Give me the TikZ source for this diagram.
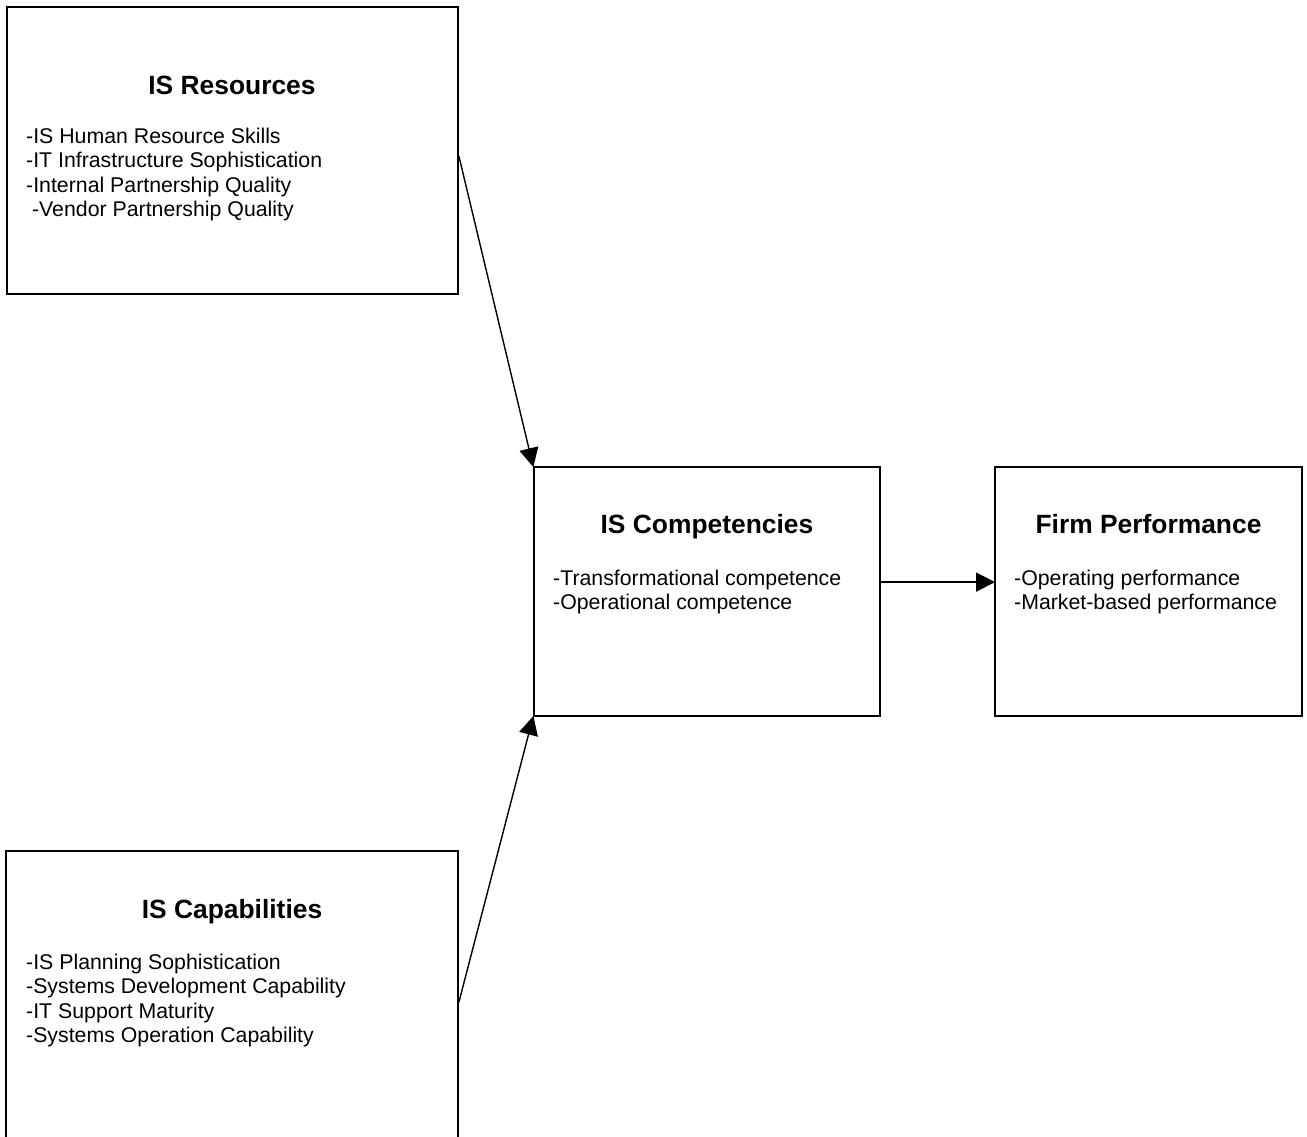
\documentclass[tikz,border=0pt]{standalone}
\usepackage{fontspec}
\setmainfont{Liberation Sans}
\usetikzlibrary{arrows.meta}
\tikzset{
  box/.style={draw, line width=1.8pt, rectangle, inner sep=0pt},
  title/.style={font=\bfseries\fontsize{26.4}{30}\selectfont, inner sep=0pt, anchor=base},
  body/.style={font=\fontsize{21.3}{24.5}\selectfont, align=left, inner sep=0pt, anchor=north west},
  link/.style={line width=1.4pt, -{Triangle[length=19pt,width=19pt]}, shorten >=-1pt}
}
\begin{document}
\begin{tikzpicture}[x=1pt,y=-1pt]
\useasboundingbox (0,0) rectangle (1307,1137);
\clip (0,0) rectangle (1307,1137);
% boxes
\node[box, minimum width=451, minimum height=287] (res) at (232.5,150.5) {};
\node[box, minimum width=346, minimum height=249] (comp) at (707,591.5) {};
\node[box, minimum width=307, minimum height=249] (perf) at (1148.5,591.5) {};
\node[box, minimum width=452, minimum height=320] (cap) at (232,1011) {};
% titles
\node[title] (resT) at (232,95) {IS Resources};
\node[title] (compT) at (707,533) {IS Competencies};
\node[title] (perfT) at (1148.5,533) {Firm Performance};
\node[title] (capT) at (232,918) {IS Capabilities};
% bodies
\node[body] (resB) at (26,127.5) {-IS Human Resource Skills\\-IT Infrastructure Sophistication\\-Internal Partnership Quality\\\hspace*{0.278em}-Vendor Partnership Quality};
\node[body] (compB) at (553,569.5) {-Transformational competence\\-Operational competence};
\node[body] (perfB) at (1014,569.5) {-Operating performance\\-Market-based performance};
\node[body] (capB) at (26,953.5) {-IS Planning Sophistication\\-Systems Development Capability\\-IT Support Maturity\\-Systems Operation Capability};
% connectors
\coordinate (resOut) at ([yshift=-150pt]res.north east);
\coordinate (capOut) at ([yshift=-152pt]cap.north east);
\coordinate (compIn) at ([yshift=-116pt]comp.north east);
\draw[link] (resOut) -- (comp.north west);
\draw[link] (capOut) -- (comp.south west);
\draw[link] (compIn) -- (compIn -| perf.west);
\end{tikzpicture}
\end{document}
